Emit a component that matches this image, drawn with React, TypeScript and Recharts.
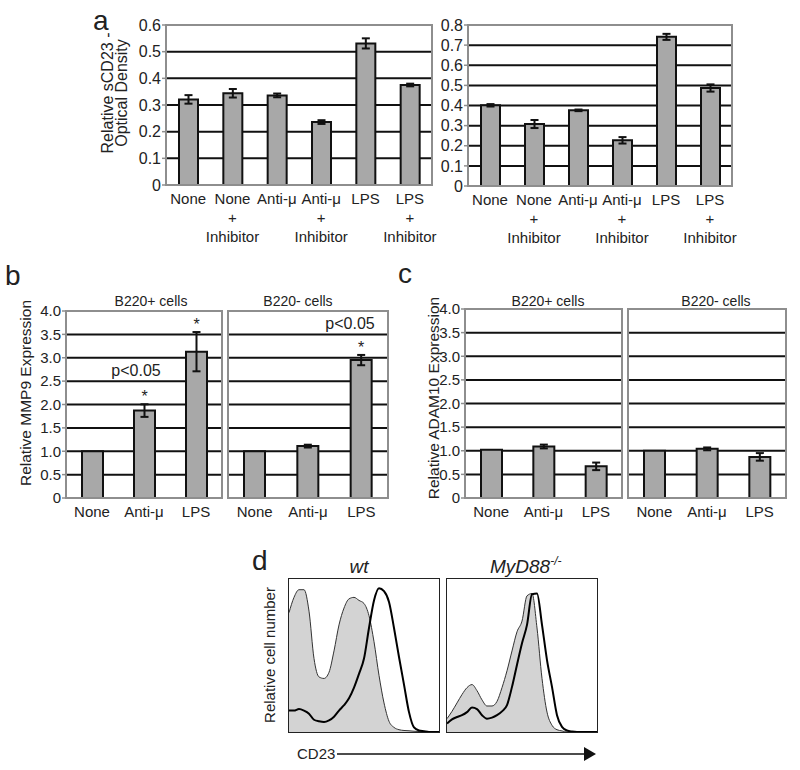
import React from "react";
import {
  BarChart, Bar, XAxis, YAxis, CartesianGrid, ErrorBar, LabelList,
  ComposedChart, Area, Line,
} from "recharts";

const FONT = "'Liberation Sans', Arial, Helvetica, sans-serif";

// panel a: sCD23 optical density, two experiments
const aCategories = ["None", "None + Inhibitor", "Anti-μ", "Anti-μ + Inhibitor", "LPS", "LPS + Inhibitor"];
const aLeftValues = [0.321, 0.344, 0.336, 0.236, 0.531, 0.375];
const aLeftErrors = [0.016, 0.016, 0.007, 0.007, 0.019, 0.005];
const aRightValues = [0.401, 0.308, 0.376, 0.227, 0.741, 0.487];
const aRightErrors = [0.006, 0.02, 0.004, 0.016, 0.015, 0.018];
const aLeftTicks = [0, 0.1, 0.2, 0.3, 0.4, 0.5, 0.6];
const aRightTicks = [0, 0.1, 0.2, 0.3, 0.4, 0.5, 0.6, 0.7, 0.8];

// panels b and c: relative expression
const bcCategories = ["None", "Anti-μ", "LPS"];
const bcTicks = [0, 0.5, 1.0, 1.5, 2.0, 2.5, 3.0, 3.5, 4.0];
const mmp9PosValues = [1.0, 1.87, 3.13];
const mmp9PosErrors = [0, 0.135, 0.42];
const mmp9PosSig = [false, true, true];
const mmp9NegValues = [1.0, 1.11, 2.95];
const mmp9NegErrors = [0, 0.03, 0.11];
const mmp9NegSig = [false, false, true];
const adamPosValues = [1.02, 1.09, 0.67];
const adamPosErrors = [0, 0.04, 0.08];
const adamNegValues = [1.0, 1.04, 0.87];
const adamNegErrors = [0, 0.03, 0.08];

// panel d: CD23 histograms, 31 bins across the axis, normalised heights
const wtGray = [0.78, 0.88, 0.93, 0.93, 0.79, 0.48, 0.36, 0.35, 0.39, 0.53, 0.70, 0.81, 0.87, 0.88, 0.86, 0.84, 0.76, 0.59, 0.37, 0.19, 0.07, 0.03, 0.015, 0.01, 0.008, 0.005, 0.003, 0, 0, 0, 0];
const wtBlack = [0.14, 0.14, 0.15, 0.14, 0.12, 0.08, 0.07, 0.065, 0.076, 0.10, 0.14, 0.175, 0.22, 0.29, 0.38, 0.48, 0.68, 0.86, 0.94, 0.92, 0.85, 0.68, 0.49, 0.31, 0.13, 0.03, 0.01, 0.005, 0, 0, 0];
const myd88Gray = [0.087, 0.135, 0.19, 0.245, 0.29, 0.31, 0.27, 0.21, 0.17, 0.17, 0.20, 0.29, 0.40, 0.53, 0.655, 0.725, 0.89, 0.905, 0.68, 0.35, 0.13, 0.044, 0.015, 0.007, 0, 0, 0, 0, 0, 0, 0];
const myd88Black = [0.055, 0.083, 0.098, 0.11, 0.13, 0.16, 0.15, 0.11, 0.087, 0.094, 0.11, 0.135, 0.175, 0.295, 0.44, 0.58, 0.70, 0.90, 0.905, 0.70, 0.47, 0.295, 0.11, 0.033, 0.01, 0.003, 0, 0, 0, 0, 0];

type Rect = { x: number; y: number; w: number; h: number };

const A_LEFT: Rect = { x: 166, y: 25, w: 266, h: 160 };
const A_RIGHT: Rect = { x: 468, y: 25, w: 264, h: 161 };
const B_LEFT: Rect = { x: 66, y: 311, w: 156, h: 187 };
const B_RIGHT: Rect = { x: 228, y: 311, w: 160, h: 187 };
const C_LEFT: Rect = { x: 465, y: 309, w: 157, h: 189 };
const C_RIGHT: Rect = { x: 628, y: 309, w: 158, h: 189 };
const D_LEFT: Rect = { x: 289, y: 579, w: 150, h: 153 };
const D_RIGHT: Rect = { x: 447, y: 579, w: 150, h: 153 };

function CategoryTick(props: any) {
  const { x, y, payload } = props;
  const parts = String(payload.value).split(" + ");
  const rows = parts.length > 1 ? [parts[0], "+", parts[1]] : parts;
  return (
    <text x={x} y={y} textAnchor="middle" fontSize={15} fill="#222">
      {rows.map((r, i) => (
        <tspan key={i} x={x} y={y + 19 + i * 19}>{r}</tspan>
      ))}
    </text>
  );
}

interface BarPanelProps {
  rect: Rect;
  categories: string[];
  values: number[];
  errors: number[];
  ticks: number[];
  showY: boolean;
  fmt: (v: number) => string;
  barSize: number;
  tickFont: number;
  sig?: boolean[];
}

function BarPanel({ rect, categories, values, errors, ticks, showY, fmt, barSize, tickFont, sig }: BarPanelProps) {
  const yw = showY ? 50 : 0;
  const mt = 10;
  const mr = 10;
  const xh = 70;
  const max = ticks[ticks.length - 1];
  const data = categories.map((name, i) => ({ name, value: values[i], err: errors[i] }));

  return (
    <>
      <div style={{ position: "absolute", left: rect.x - yw, top: rect.y - mt }}>
        <BarChart
          width={yw + rect.w + mr}
          height={mt + rect.h + xh}
          data={data}
          margin={{ top: mt, right: mr, left: 0, bottom: 0 }}
        >
          <CartesianGrid horizontalValues={ticks.slice(1, -1)} vertical={false} stroke="#111" strokeWidth={2} />
          <XAxis
            dataKey="name" axisLine={false} tickLine={false} tickSize={0} tickMargin={0}
            height={xh} interval={0} tick={<CategoryTick />}
          />
          <YAxis
            domain={[0, max]} ticks={ticks} interval={0} hide={!showY} width={yw}
            axisLine={false} tickLine={{ stroke: "#8e8e8e", strokeWidth: 1.5 }} tickSize={4} tickMargin={1}
            tickFormatter={fmt} tick={{ fontSize: tickFont, fill: "#222" }}
          />
          <Bar dataKey="value" fill="#a8a8a8" stroke="#111" strokeWidth={2} barSize={barSize} isAnimationActive={false}>
            <ErrorBar dataKey="err" width={4} stroke="#111" strokeWidth={2} />
            {sig && (
              <LabelList
                dataKey="value"
                content={(p: any) => {
                  const i = p.index ?? values.indexOf(p.value);
                  if (!sig[i]) return null;
                  const errPx = (errors[i] * rect.h) / max;
                  return (
                    <text x={p.x + p.width / 2} y={p.y - errPx - 2} textAnchor="middle" fontSize={16} fill="#222">*</text>
                  );
                }}
              />
            )}
          </Bar>
        </BarChart>
      </div>
      <div
        style={{
          position: "absolute", left: rect.x - 1, top: rect.y - 1,
          width: rect.w + 2, height: rect.h + 2, border: "2px solid #8e8e8e",
          boxSizing: "border-box", pointerEvents: "none",
        }}
      />
    </>
  );
}

function Histogram({ rect, gray, black }: { rect: Rect; gray: number[]; black: number[] }) {
  const data = gray.map((g, i) => ({ bin: i, gray: g, black: black[i] }));
  return (
    <>
      <div style={{ position: "absolute", left: rect.x, top: rect.y }}>
        <ComposedChart width={rect.w} height={rect.h} data={data} margin={{ top: 0, right: 0, left: 0, bottom: 0 }}>
          <XAxis type="number" dataKey="bin" domain={[0, gray.length - 1]} hide />
          <YAxis type="number" domain={[0, 1]} hide />
          <Area type="monotone" dataKey="gray" fill="#d3d3d3" fillOpacity={1} stroke="#333" strokeWidth={1} isAnimationActive={false} />
          <Line type="monotone" dataKey="black" stroke="#000" strokeWidth={2} dot={false} isAnimationActive={false} />
        </ComposedChart>
      </div>
      <div
        style={{
          position: "absolute", left: rect.x - 1, top: rect.y - 1,
          width: rect.w + 2, height: rect.h + 2, border: "1.5px solid #222",
          boxSizing: "border-box", pointerEvents: "none",
        }}
      />
    </>
  );
}

const fmtA = (v: number) => (v === 0 ? "0" : String(v));
const fmtBC = (v: number) => (v === 0 ? "0" : v.toFixed(1));

export default function App() {
  return (
    <div style={{ position: "absolute", left: 0, top: 0, width: 800, height: 770, background: "#fff", fontFamily: FONT }}>
      <BarPanel rect={A_LEFT} categories={aCategories} values={aLeftValues} errors={aLeftErrors} ticks={aLeftTicks} showY fmt={fmtA} barSize={19} tickFont={16} />
      <BarPanel rect={A_RIGHT} categories={aCategories} values={aRightValues} errors={aRightErrors} ticks={aRightTicks} showY fmt={fmtA} barSize={19} tickFont={16} />
      <BarPanel rect={B_LEFT} categories={bcCategories} values={mmp9PosValues} errors={mmp9PosErrors} ticks={bcTicks} showY fmt={fmtBC} barSize={21} tickFont={15} sig={mmp9PosSig} />
      <BarPanel rect={B_RIGHT} categories={bcCategories} values={mmp9NegValues} errors={mmp9NegErrors} ticks={bcTicks} showY={false} fmt={fmtBC} barSize={21} tickFont={15} sig={mmp9NegSig} />
      <BarPanel rect={C_LEFT} categories={bcCategories} values={adamPosValues} errors={adamPosErrors} ticks={bcTicks} showY fmt={fmtBC} barSize={21} tickFont={15} />
      <BarPanel rect={C_RIGHT} categories={bcCategories} values={adamNegValues} errors={adamNegErrors} ticks={bcTicks} showY={false} fmt={fmtBC} barSize={21} tickFont={15} />
      <Histogram rect={D_LEFT} gray={wtGray} black={wtBlack} />
      <Histogram rect={D_RIGHT} gray={myd88Gray} black={myd88Black} />

      <svg width={800} height={770} style={{ position: "absolute", left: 0, top: 0, pointerEvents: "none" }} fontFamily={FONT} fill="#222">
        {/* panel letters */}
        <text x={93} y={30} fontSize={28}>a</text>
        <text x={5} y={285} fontSize={28}>b</text>
        <text x={398} y={283} fontSize={28}>c</text>
        <text x={252} y={570} fontSize={28}>d</text>

        {/* a */}
        <text transform="translate(113,93) rotate(-90)" textAnchor="middle" fontSize={16}>Relative sCD23 -</text>
        <text transform="translate(127,93) rotate(-90)" textAnchor="middle" fontSize={16}>Optical Density</text>

        {/* b */}
        <text transform="translate(31,393) rotate(-90)" textAnchor="middle" fontSize={15.5}>Relative MMP9 Expression</text>
        <text x={151} y={306} textAnchor="middle" fontSize={14}>B220+ cells</text>
        <text x={298} y={306} textAnchor="middle" fontSize={14}>B220- cells</text>
        <text x={136} y={376} textAnchor="middle" fontSize={16}>p&lt;0.05</text>
        <text x={350} y={329} textAnchor="middle" fontSize={16}>p&lt;0.05</text>

        {/* c */}
        <text transform="translate(439,398) rotate(-90)" textAnchor="middle" fontSize={15.5}>Relative ADAM10 Expression</text>
        <text x={548} y={306} textAnchor="middle" fontSize={14}>B220+ cells</text>
        <text x={716} y={306} textAnchor="middle" fontSize={14}>B220- cells</text>

        {/* d */}
        <text x={359} y={573} textAnchor="middle" fontSize={19} fontStyle="italic">wt</text>
        <text x={490} y={573} fontSize={19} fontStyle="italic">
          MyD88<tspan dy={-8} fontSize={12}>-/-</tspan>
        </text>
        <text transform="translate(275,655) rotate(-90)" textAnchor="middle" fontSize={15}>Relative cell number</text>
        <text x={297} y={759} fontSize={15}>CD23</text>
        <line x1={337} y1={754} x2={585} y2={754} stroke="#111" strokeWidth={1.5} />
        <polygon points="584,747 596,754 584,761" fill="#111" />
      </svg>
    </div>
  );
}
